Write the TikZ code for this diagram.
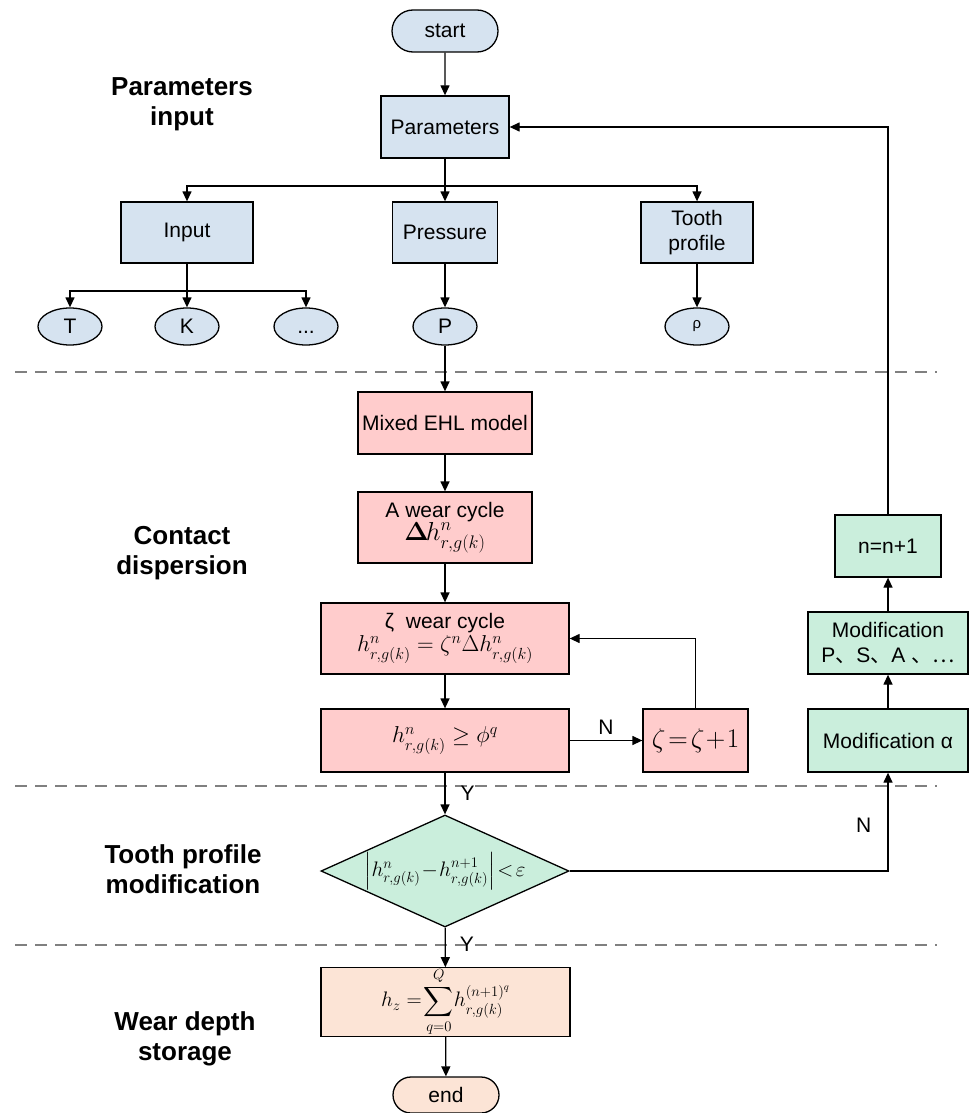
\documentclass[tikz,border=0pt]{standalone}
\usepackage{fix-cm}
\usepackage{amsmath}
\usepackage{exscale}
\usepackage[no-math]{fontspec}
\setmainfont{Liberation Sans}
\newfontfamily\cjkfont{Noto Sans CJK SC}
\usetikzlibrary{shapes.geometric,shapes.misc,arrows.meta}
\definecolor{paramblue}{RGB}{214,227,240}
\definecolor{wearred}{RGB}{255,204,204}
\definecolor{modgreen}{RGB}{202,238,220}
\definecolor{storepeach}{RGB}{252,228,214}
\definecolor{sepgrey}{RGB}{128,128,128}
\begin{document}
\begin{tikzpicture}[x=1pt,y=-1pt,
    every node/.style={font=\fontsize{21}{25}\selectfont, inner sep=0pt},
    blk/.style={draw, rectangle, line width=1.3pt, align=center},
    term/.style={draw, rounded rectangle, line width=1.3pt, minimum width=106pt, minimum height=42pt},
    leaf/.style={draw, ellipse, fill=paramblue, line width=1.3pt, minimum width=64pt, minimum height=37pt},
    decision/.style={draw, diamond, fill=modgreen, line width=1.3pt, minimum width=248pt, minimum height=112pt},
    flow/.style={-{Triangle[length=10pt,width=9pt]}, line width=1.3pt},
    plain/.style={line width=1.3pt},
    sep/.style={sepgrey, line width=1.3pt, dash pattern=on 12pt off 8pt},
    stage/.style={font=\fontsize{26}{30}\selectfont\bfseries, align=center}]
  \useasboundingbox (0,0) rectangle (969,1113);
  % stage labels and separators
  \node[stage] (lab1) at (182,104) {Parameters\\input};
  \node[stage] (lab2) at (182,553) {Contact\\dispersion};
  \node[stage] (lab3) at (183,869) {Tooth profile\\modification};
  \node[stage] (lab4) at (185,1039) {Wear depth\\storage};
  \draw[sep] (15,372) -- (937,372);
  \draw[sep] (15,786) -- (937,786);
  \draw[sep] (15,945) -- (937,945);
  % parameters input
  \node[term, fill=paramblue] (start) at (445,31) {start};
  \node[blk, fill=paramblue, minimum width=128pt, minimum height=62pt] (params) at (445,127) {Parameters};
  \node[blk, fill=paramblue, minimum width=132pt, minimum height=61pt] (input) at (187,232.5) {Input};
  \node[blk, fill=paramblue, minimum width=105pt, minimum height=61pt] (pressure) at (445,232.5) {Pressure};
  \node[blk, fill=paramblue, minimum width=112pt, minimum height=61pt] (tooth) at (697,232.5) {Tooth\\profile};
  \node[leaf] (T) at (70,326.5) {T};
  \node[leaf] (K) at (187,326.5) {K};
  \node[leaf] (dots) at (306,326.5) {\vphantom{T}...};
  \node[leaf] (P) at (445,326.5) {P};
  \node[leaf] (rho) at (697,326.5) {\fontsize{15}{18}\selectfont ρ};
  \coordinate (fork) at (445,186);
  \coordinate (subfork) at (187,291);
  % contact dispersion
  \node[blk, fill=wearred, minimum width=174pt, minimum height=62pt] (mixed) at (445,423) {Mixed EHL model};
  \node[blk, fill=wearred, minimum width=174pt, minimum height=71pt] (wear1) at (445,527.5)
    {A wear cycle\\[-2pt]{\fontsize{26}{26}\selectfont$\boldsymbol{\Delta}\mkern-2mu h^{n}_{r,g(k)}$}};
  \node[blk, fill=wearred, minimum width=248pt, minimum height=71pt] (wear2) at (445,638.5)
    {ζ\ \ wear cycle\\[-2pt]{\fontsize{23}{25}\selectfont$h^{n}_{r,g(k)}=\zeta^{n}\Delta h^{n}_{r,g(k)}$}};
  \node[blk, fill=wearred, minimum width=248pt, minimum height=63pt] (cond) at (445,740.5)
    {\fontsize{23}{25}\selectfont$h^{n}_{r,g(k)}\geq\phi^{q}$};
  \node[blk, fill=wearred, minimum width=105pt, minimum height=63pt] (zinc) at (695.5,740.5)
    {\fontsize{27}{27}\selectfont$\zeta\!=\!\zeta\!+\!1$};
  % tooth profile modification
  \node[decision] (check) at (445,871) {};
  \node (checktext) at (check) {\fontsize{21}{24}\selectfont$\left|h^{n}_{r,g(k)}\!-\!h^{n+1}_{r,g(k)}\right|\!<\!\varepsilon$};
  \node[blk, fill=modgreen, minimum width=160pt, minimum height=63pt] (modA) at (888,740.5) {Modification α};
  \node[blk, fill=modgreen, minimum width=160pt, minimum height=62pt] (modP) at (888,643)
    {Modification\\P{\cjkfont 、}S{\cjkfont 、}A {\cjkfont 、}{\cjkfont …}};
  \node[blk, fill=modgreen, minimum width=106pt, minimum height=62pt] (ninc) at (888,546) {n=n+1};
  % wear depth storage
  \node[blk, fill=storepeach, minimum width=249pt, minimum height=62pt] (store) at (445.5,1002)
    {\fontsize{21}{25}\selectfont$\displaystyle h_{z}=\!\sum_{q=0}^{Q}\!h^{(n+1)^{q}}_{r,g(k)}$};
  \node[term, fill=storepeach, minimum height=36pt] (stop) at (446,1095) {end};
  % connectors
  \draw[flow] (start) -- (params);
  \draw[plain] (params) -- (fork);
  \draw[flow] (fork) -| (input);
  \draw[flow] (fork) -- (pressure);
  \draw[flow] (fork) -| (tooth);
  \draw[plain] (input) -- (subfork);
  \draw[flow] (subfork) -| (T);
  \draw[flow] (subfork) -- (K);
  \draw[flow] (subfork) -| (dots);
  \draw[flow] (pressure) -- (P);
  \draw[flow] (tooth) -- (rho);
  \draw[flow] (P) -- (mixed);
  \draw[flow] (mixed) -- (wear1);
  \draw[flow] (wear1) -- (wear2);
  \draw[flow] (wear2) -- (cond);
  \draw[flow] (cond) -- node[above=5pt] {N} (zinc);
  \draw[flow] (zinc) |- (wear2);
  \draw[flow] (cond) -- node[right=15pt, pos=0.5] {Y} (check);
  \draw[flow] (check) -- node[right=14pt, pos=0.41] {Y} (store);
  \draw[flow] (check) -| node[left=16pt, pos=0.73] {N} (modA);
  \draw[flow] (modA) -- (modP);
  \draw[flow] (modP) -- (ninc);
  \draw[flow] (ninc) |- (params);
  \draw[flow] (store) -- (stop);
\end{tikzpicture}
\end{document}
